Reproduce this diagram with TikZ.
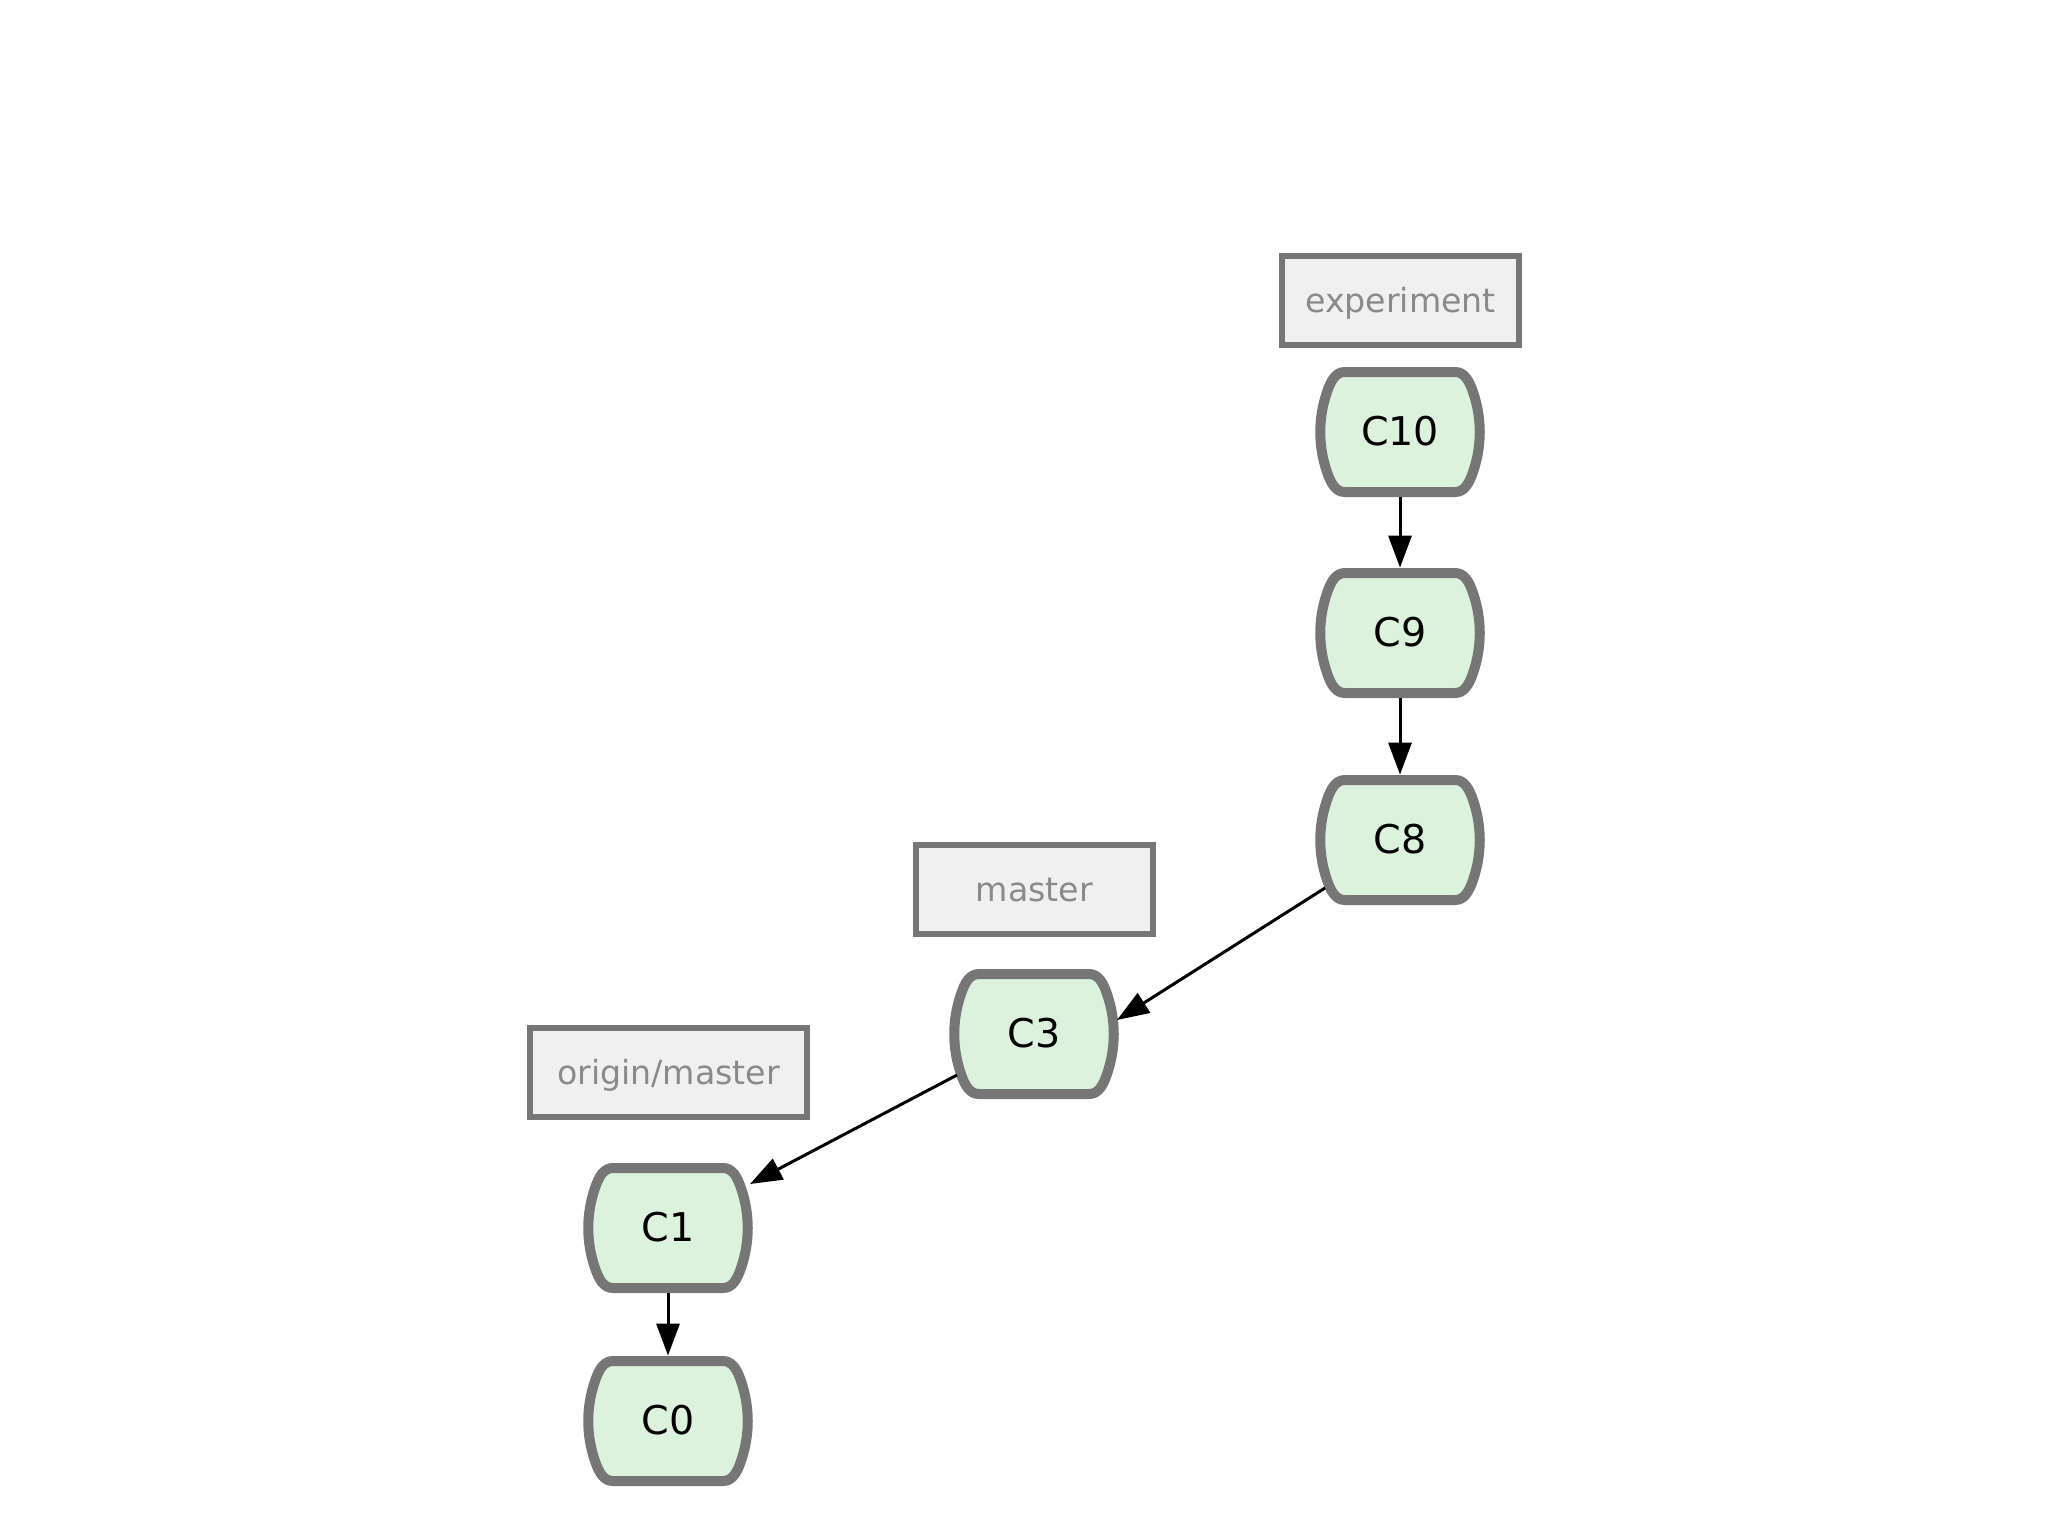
\documentclass[tikz,border=0pt]{standalone}
\usepackage{fontspec}
\setmainfont{DejaVu Sans}
\usetikzlibrary{arrows.meta,calc,backgrounds}
\definecolor{commitfill}{HTML}{DCF2DC}
\definecolor{commitdraw}{HTML}{767676}
\definecolor{labelfill}{HTML}{F0F0F0}
\definecolor{labeltext}{HTML}{8A8A8A}
\begin{document}
\begin{tikzpicture}[x=0.5pt,y=-0.5pt,
  commit/.style={minimum width=85pt,minimum height=65pt,inner sep=0pt,
    font=\fontsize{19.8}{23}\selectfont,text height=13pt,text depth=0pt},
  branch/.style={draw=commitdraw,fill=labelfill,line width=3pt,inner sep=0pt,
    minimum width=118.5pt,minimum height=44.5pt,text=labeltext,
    font=\fontsize{16.6}{19}\selectfont,text height=12pt,text depth=0pt},
  commitline/.style={draw=commitdraw,fill=commitfill,line width=5pt,line join=round},
  link/.style={line width=1.5pt,-{Triangle[length=16pt,width=11.5pt]}}]
\useasboundingbox (0,0) rectangle (2048,1536);

% branch labels
\node[branch] (experiment) at (1400.5,300.5) {experiment};
\node[branch] (master) at (1034.5,889) {master};
\node[branch,minimum width=138.5pt] (origin) at (668.5,1072.5) {origin/master};

% commits
\node[commit] (c10) at (1400,432) {C10};
\node[commit] (c9) at (1400,633) {C9};
\node[commit] (c8) at (1400,840) {C8};
\node[commit] (c3) at (1034,1034) {C3};
\node[commit] (c1) at (668,1228) {C1};
\node[commit] (c0) at (668,1421) {C0};

\begin{pgfonlayer}{background}
\foreach \n in {c10,c9,c8,c3,c1,c0}{
  \begin{scope}[shift={(\n.center)}]
  \path[commitline] (-55,-60) -- (55,-60)
    .. controls (64,-60) and (69,-52) .. (73,-40)
    .. controls (82,-14) and (82,14) .. (73,40)
    .. controls (69,52) and (64,60) .. (55,60)
    -- (-55,60)
    .. controls (-64,60) and (-69,52) .. (-73,40)
    .. controls (-82,14) and (-82,-14) .. (-73,-40)
    .. controls (-69,-52) and (-64,-60) .. (-55,-60) -- cycle;
  \end{scope}
}
\end{pgfonlayer}

% parent links
\draw[link] (c10.south) -- (c9.north);
\draw[link] (c9.south) -- (c8.north);
\draw[link] ($(c8.center)+(-75,48)$) -- ($(c3.center)+(83,-14)$);
\draw[link] ($(c3.center)+(-77,41)$) -- ($(c1.center)+(82,-44)$);
\draw[link] (c1.south) -- (c0.north);
\end{tikzpicture}
\end{document}
